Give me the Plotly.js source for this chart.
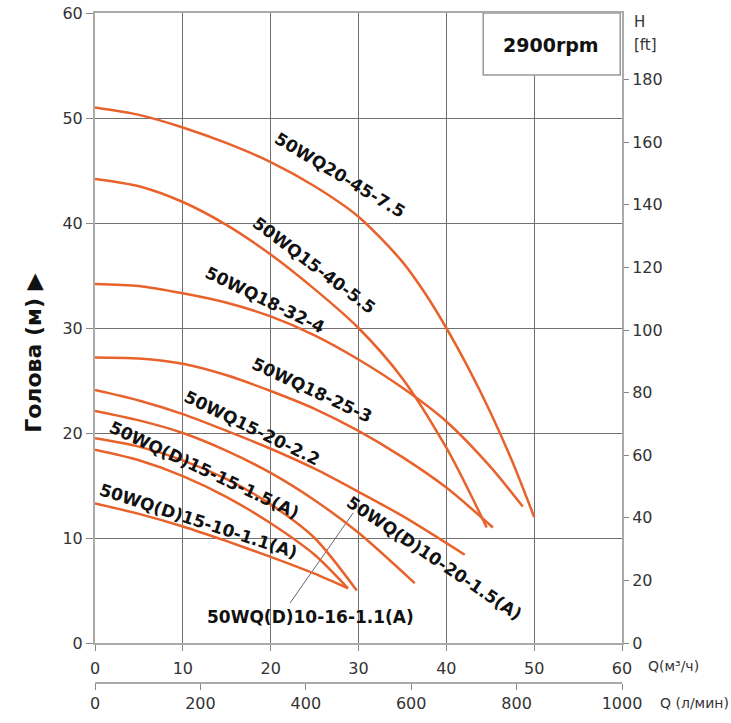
<!DOCTYPE html>
<html>
<head>
<meta charset="utf-8">
<script src="https://cdn.plot.ly/plotly-3.0.1.min.js"></script>
<style>html,body{margin:0;padding:0;background:#fff;}#chart{width:731px;height:723px;}</style>
</head>
<body>
<div id="chart"></div>
<script>
// ---- data (Q in m3/h, H in m) ----
const q_20_45_75 = [0, 5, 10, 15, 20, 25, 30, 35, 37.5, 40, 42.5, 45, 47.5, 50];
const h_20_45_75 = [51.0, 50.3, 49.1, 47.6, 45.8, 43.5, 40.6, 36.3, 33.4, 30.0, 26.2, 22.0, 17.3, 12.0];

const q_15_40_55 = [0, 5, 10, 15, 20, 25, 30, 35, 40, 42.5, 44.6];
const h_15_40_55 = [44.2, 43.5, 42.0, 39.8, 37.0, 33.7, 30.0, 25.2, 18.6, 14.6, 11.0];

const q_18_32_4 = [0, 5, 10, 15, 20, 25, 30, 35, 40, 45, 48.7];
const h_18_32_4 = [34.2, 34.0, 33.3, 32.4, 31.1, 29.3, 27.0, 24.3, 21.1, 16.8, 13.0];

const q_18_25_3 = [0, 5, 10, 15, 20, 25, 30, 35, 40, 45.3];
const h_18_25_3 = [27.2, 27.1, 26.6, 25.5, 24.0, 22.3, 20.2, 17.7, 14.8, 11.0];

const q_15_20_22 = [0, 5, 10, 15, 20, 25, 30, 35, 42.1];
const h_15_20_22 = [24.1, 23.1, 21.8, 20.2, 18.5, 16.6, 14.4, 12.1, 8.4];

const q_d10_20_15 = [0, 5, 10, 15, 20, 25, 30, 36.4];
const h_d10_20_15 = [22.1, 21.2, 20.0, 18.3, 16.2, 13.6, 10.5, 5.7];

const q_d15_15_15 = [0, 5, 10, 15, 20, 25, 29.8];
const h_d15_15_15 = [19.5, 18.7, 17.4, 15.6, 13.2, 10.0, 5.0];

const q_d10_16_11 = [0, 5, 10, 15, 20, 25, 28.8];
const h_d10_16_11 = [18.4, 17.4, 15.9, 13.9, 11.4, 8.4, 5.2];

const q_d15_10_11 = [0, 5, 10, 15, 20, 25, 28.8];
const h_d15_10_11 = [13.3, 12.3, 11.1, 9.7, 8.2, 6.6, 5.2];

const curveNames = [
  "50WQ20-45-7.5", "50WQ15-40-5.5", "50WQ18-32-4", "50WQ18-25-3", "50WQ15-20-2.2",
  "50WQ(D)10-20-1.5(A)", "50WQ(D)15-15-1.5(A)", "50WQ(D)10-16-1.1(A)", "50WQ(D)15-10-1.1(A)"
];
const curveQ = [q_20_45_75, q_15_40_55, q_18_32_4, q_18_25_3, q_15_20_22, q_d10_20_15, q_d15_15_15, q_d10_16_11, q_d15_10_11];
const curveH = [h_20_45_75, h_15_40_55, h_18_32_4, h_18_25_3, h_15_20_22, h_d10_20_15, h_d15_15_15, h_d10_16_11, h_d15_10_11];

const qTicks = [0, 10, 20, 30, 40, 50, 60];
const hTicks = [0, 10, 20, 30, 40, 50, 60];
const ftTicks = [0, 20, 40, 60, 80, 100, 120, 140, 160, 180];
const lminTicks = [0, 200, 400, 600, 800, 1000];

// label placement (Q, H, angle) per curve
const labelPos = [
  [27.9, 44.6, 31], [24.9, 36.0, 37], [19.4, 32.7, 26], [24.7, 24.1, 25], [17.9, 20.5, 26],
  [38.6, 8.1, 34], [12.5, 16.5, 25], [24.5, 2.5, 0], [11.8, 11.6, 18]
];

const orange = '#e8622c';
const traces = curveQ.map((q, i) => ({
  x: q, y: curveH[i], name: curveNames[i], type: 'scatter', mode: 'lines',
  line: {color: orange, width: 2.5, shape: 'spline', smoothing: 0.8},
  hoverinfo: 'skip', showlegend: false, xaxis: 'x', yaxis: 'y'
}));
// helper trace so the secondary axes exist
traces.push({x: [lminTicks[0]], y: [ftTicks[0]], xaxis: 'x2', yaxis: 'y2', mode: 'markers',
  marker: {opacity: 0}, hoverinfo: 'skip', showlegend: false});

const labelFont = {family: 'DejaVu Sans', size: 17, color: '#111'};
const annotations = curveNames.map((n, i) => ({
  x: labelPos[i][0], y: labelPos[i][1], xref: 'x', yref: 'y', text: '<b>' + n + '</b>',
  textangle: labelPos[i][2], showarrow: false, font: labelFont, xanchor: 'center', yanchor: 'middle'
}));

const axFont = {family: 'DejaVu Sans', size: 15, color: '#333'};
annotations.push(
  {x: 51.9, y: 57.0, xref: 'x', yref: 'y', text: '<b>2900rpm</b>', showarrow: false,
   font: {family: 'DejaVu Sans', size: 19, color: '#111'}},
  {x: -0.118, y: 0.4925, xref: 'paper', yref: 'paper', text: '<b>Голова (м) ▶</b>', textangle: -90,
   xanchor: 'center', yanchor: 'middle',
   showarrow: false, font: {family: 'DejaVu Sans', size: 22, color: '#111'}},
  {x: 1.019, y: 0.9866, xref: 'paper', yref: 'paper', text: 'H', xanchor: 'left', yanchor: 'middle', showarrow: false, font: axFont},
  {x: 1.019, y: 0.952, xref: 'paper', yref: 'paper', text: '[ft]', xanchor: 'left', yanchor: 'middle', showarrow: false, font: axFont},
  {x: 1.046, y: 0.0254, xref: 'paper', yref: 'paper', text: 'Q(м³/ч)', xanchor: 'left', yanchor: 'middle', showarrow: false,
   font: {family: 'DejaVu Sans', size: 14, color: '#333'}},
  {x: 1.068, y: -0.0299, xref: 'paper', yref: 'paper', text: 'Q (л/мин)', xanchor: 'left', yanchor: 'middle', showarrow: false,
   font: {family: 'DejaVu Sans', size: 14, color: '#333'}}
);

const shapes = [
  {type: 'rect', xref: 'x', yref: 'y', x0: 44.2, x1: 59.8, y0: 54.1, y1: 60,
   line: {color: '#999', width: 1.5}, fillcolor: '#fff', layer: 'above'},
  {type: 'line', xref: 'x', yref: 'y', x0: 22.2, y0: 3.8, x1: 29.4, y1: 12.4,
   line: {color: '#666', width: 1}, layer: 'between'}
];

const tickFont = {family: 'DejaVu Sans', size: 16, color: '#333'};
const layout = {
  width: 731, height: 723,
  margin: {l: 95, r: 109, t: 13, b: 40, pad: 0},
  paper_bgcolor: '#fff', plot_bgcolor: '#fff',
  font: {family: 'DejaVu Sans', size: 16, color: '#333'},
  showlegend: false,
  xaxis: {range: [0, 60], tickvals: qTicks, ticktext: qTicks.map(String), showgrid: true,
    gridcolor: '#707070', gridwidth: 1, showline: true, linecolor: '#aaa', linewidth: 2, mirror: true,
    ticks: 'outside', ticklen: 6, tickcolor: '#888', tickfont: tickFont, ticklabelstandoff: 4,
    zeroline: false, anchor: 'y', fixedrange: true},
  yaxis: {range: [0, 60], tickvals: hTicks, ticktext: hTicks.map(String), domain: [0.0597, 1], showgrid: true,
    gridcolor: '#707070', gridwidth: 1, showline: true, linecolor: '#aaa', linewidth: 2,
    ticks: 'outside', ticklen: 7, tickcolor: '#888', tickfont: tickFont, zeroline: false, anchor: 'x', fixedrange: true},
  yaxis2: {overlaying: 'y', side: 'right', range: [0, 201.3], tickvals: ftTicks, ticktext: ftTicks.map(String),
    showgrid: false, showline: true, linecolor: '#aaa', linewidth: 2, ticks: 'outside', ticklen: 5,
    tickcolor: '#888', tickfont: tickFont, zeroline: false, anchor: 'x2', fixedrange: true},
  xaxis2: {overlaying: 'x', anchor: 'free', position: 0, side: 'bottom', range: [0, 1000], tickvals: lminTicks,
    ticktext: lminTicks.map(String), showgrid: false, showline: true, linecolor: '#aaa', linewidth: 2,
    ticks: 'outside', ticklen: 6, tickcolor: '#888', tickfont: tickFont, zeroline: false, fixedrange: true},
  annotations: annotations,
  shapes: shapes
};

Plotly.newPlot('chart', traces, layout, {staticPlot: true, displayModeBar: false});
</script>
</body>
</html>
